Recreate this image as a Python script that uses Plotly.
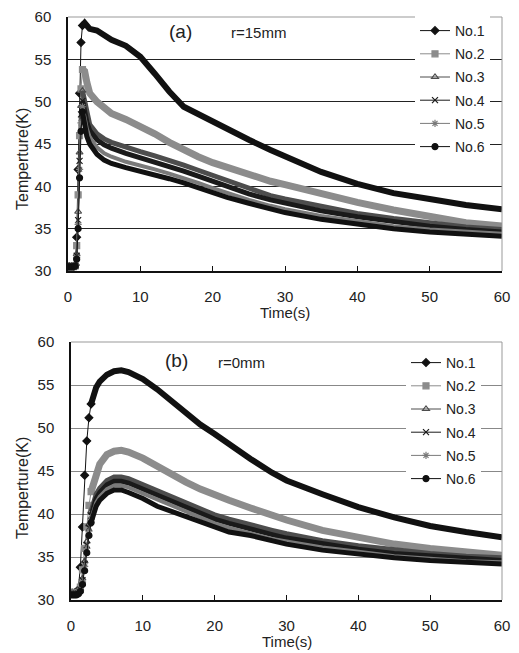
import plotly.graph_objects as go

# ---- data ----
series_names = ["No.1", "No.2", "No.3", "No.4", "No.5", "No.6"]

time_a = [0, 0.25, 0.5, 0.75, 1.0, 1.2, 1.4, 1.6, 1.8, 2.0, 2.3, 2.6, 3, 4, 5, 6, 8, 10,
          12, 14, 16, 18, 20, 22, 25, 28, 30, 35, 40, 45, 50, 55, 60]
temp_a_no1 = [30.5, 30.5, 30.5, 30.5, 30.7, 34.0, 42.0, 51.0, 57.0, 59.0, 59.3, 59.0, 58.6, 58.4,
              57.9, 57.3, 56.6, 55.3, 53.3, 51.2, 49.4, 48.5, 47.7, 46.8, 45.5, 44.3, 43.6, 41.7,
              40.3, 39.2, 38.5, 37.8, 37.3]
temp_a_no2 = [30.5, 30.5, 30.5, 30.5, 30.6, 33.0, 39.0, 46.0, 51.5, 53.8, 53.6, 52.3, 51.0, 50.0,
              49.2, 48.6, 47.9, 47.1, 46.2, 45.2, 44.3, 43.5, 42.8, 42.2, 41.3, 40.6, 40.2, 39.1,
              38.1, 37.2, 36.4, 35.7, 35.3]
temp_a_no3 = [30.5, 30.5, 30.5, 30.5, 30.6, 32.0, 37.0, 44.0, 49.5, 51.3, 50.0, 48.5, 47.3, 46.2,
              45.6, 45.2, 44.6, 44.1, 43.6, 43.1, 42.5, 41.9, 41.3, 40.7, 39.7, 38.9, 38.5, 37.6,
              36.8, 36.2, 35.7, 35.2, 34.9]
temp_a_no4 = [30.5, 30.5, 30.5, 30.5, 30.6, 31.8, 36.0, 43.0, 48.5, 50.1, 48.8, 47.6, 46.6, 45.5,
              44.9, 44.5, 43.9, 43.4, 42.9, 42.4, 41.8, 41.2, 40.6, 40.0, 39.1, 38.4, 38.0, 37.1,
              36.4, 35.8, 35.3, 34.9, 34.6]
temp_a_no5 = [30.5, 30.5, 30.5, 30.5, 30.6, 31.6, 35.5, 42.0, 47.5, 49.4, 48.0, 46.8, 45.8, 44.6,
              43.9, 43.5, 42.9, 42.5, 42.0, 41.5, 41.0, 40.4, 39.8, 39.2, 38.4, 37.7, 37.3, 36.5,
              35.9, 35.3, 34.9, 34.6, 34.4]
temp_a_no6 = [30.5, 30.5, 30.5, 30.5, 30.6, 31.4, 35.0, 41.0, 46.5, 48.8, 47.2, 45.9, 45.0, 43.8,
              43.1, 42.7, 42.2, 41.8, 41.4, 40.9, 40.4, 39.8, 39.2, 38.7, 38.0, 37.4, 36.9, 36.1,
              35.5, 35.0, 34.6, 34.3, 34.1]

time_b = [0, 0.25, 0.5, 0.75, 1.0, 1.3, 1.6, 1.9, 2.2, 2.5, 2.8, 3.1, 3.5, 4, 5, 6, 7, 8, 10,
          12, 14, 16, 18, 20, 22, 25, 28, 30, 35, 40, 45, 50, 55, 60]
temp_b_no1 = [30.8, 30.8, 30.8, 30.9, 31.2, 33.8, 38.5, 44.5, 48.5, 51.2, 52.8, 53.8, 54.7, 55.4,
              56.2, 56.6, 56.7, 56.5, 55.7, 54.5, 53.1, 51.7, 50.4, 49.3, 48.1, 46.4, 44.8, 43.9,
              42.3, 40.8, 39.6, 38.6, 37.9, 37.3]
temp_b_no2 = [30.8, 30.8, 30.8, 30.8, 30.9, 31.5, 33.5, 36.0, 38.5, 41.0, 42.6, 43.6, 44.8, 45.8,
              46.9, 47.3, 47.4, 47.2, 46.5, 45.5, 44.6, 43.7, 42.9, 42.2, 41.6, 40.7, 39.8, 39.3,
              38.1, 37.2, 36.5, 36.0, 35.6, 35.2]
temp_b_no3 = [30.8, 30.8, 30.8, 30.8, 30.9, 31.3, 32.5, 34.5, 36.8, 38.8, 40.3, 41.3, 42.3, 43.0,
              43.9, 44.3, 44.3, 44.1, 43.4, 42.6, 41.9, 41.2, 40.5, 39.9, 39.4, 38.7, 38.1, 37.7,
              36.9, 36.3, 35.8, 35.4, 35.1, 34.9]
temp_b_no4 = [30.7, 30.7, 30.7, 30.7, 30.8, 31.2, 32.3, 34.2, 36.4, 38.4, 39.8, 40.8, 41.8, 42.5,
              43.4, 43.8, 43.8, 43.6, 42.9, 42.1, 41.4, 40.7, 40.0, 39.4, 38.9, 38.2, 37.6, 37.2,
              36.5, 35.9, 35.4, 35.1, 34.8, 34.6]
temp_b_no5 = [30.7, 30.7, 30.7, 30.7, 30.8, 31.1, 32.1, 33.9, 36.0, 38.0, 39.4, 40.4, 41.3, 42.0,
              42.9, 43.3, 43.3, 43.1, 42.4, 41.6, 40.9, 40.2, 39.5, 38.9, 38.4, 37.7, 37.1, 36.8,
              36.1, 35.6, 35.1, 34.8, 34.5, 34.4]
temp_b_no6 = [30.6, 30.6, 30.6, 30.6, 30.7, 31.0, 31.8, 33.4, 35.5, 37.5, 39.0, 40.0, 40.9, 41.6,
              42.4, 42.8, 42.8, 42.5, 41.8, 40.9, 40.3, 39.6, 39.0, 38.4, 37.9, 37.5, 36.9, 36.5,
              35.8, 35.3, 34.9, 34.6, 34.4, 34.2]

temps_a = [temp_a_no1, temp_a_no2, temp_a_no3, temp_a_no4, temp_a_no5, temp_a_no6]
temps_b = [temp_b_no1, temp_b_no2, temp_b_no3, temp_b_no4, temp_b_no5, temp_b_no6]

# ---- style ----
FONT = "Liberation Sans, Arial, sans-serif"
colors = ["#111111", "#8c8c8c", "#4d4d4d", "#1a1a1a", "#7a7a7a", "#111111"]
symbols = ["diamond", "square", "triangle-up-open", "x-thin", "asterisk-open", "circle"]
thick = [6, 7, 5, 5, 4, 5]

# page has an 8px body margin, so work in window pixels and shift
OFF = 8
W, H = 519 - OFF, 653 - OFF


def px(x):
    return (x - OFF) / W


def py(y):
    return 1 - (y - OFF) / H


fig = go.Figure()


def add_panel(times, temps, xa, ya, legend, split_t):
    for i, name in enumerate(series_names):
        rise_t = [t for t in times if t <= split_t]
        rise_v = temps[i][:len(rise_t)]
        tail_t = times[len(rise_t) - 1:]
        tail_v = temps[i][len(rise_t) - 1:]
        # rising part: thin line with markers (shown in legend)
        fig.add_trace(go.Scatter(
            x=rise_t, y=rise_v, name=name, mode="lines+markers",
            xaxis=xa, yaxis=ya, legend=legend, legendgroup=legend + name,
            line=dict(color=colors[i], width=1),
            marker=dict(symbol=symbols[i], size=6, color=colors[i],
                        line=dict(color=colors[i], width=1.2)),
        ))
        # decay part: thick band of overlapping markers in the original
        fig.add_trace(go.Scatter(
            x=tail_t, y=tail_v, name=name, mode="lines", showlegend=False,
            xaxis=xa, yaxis=ya, legendgroup=legend + name,
            line=dict(color=colors[i], width=thick[i]),
        ))


add_panel(time_a, temps_a, "x", "y", "legend", 2.0)
add_panel(time_b, temps_b, "x2", "y2", "legend2", 2.8)

xcommon = dict(range=[0, 60], dtick=10, ticks="inside", ticklen=5, tickcolor="#111",
               showline=True, linecolor="#111", linewidth=1.5, showgrid=False, zeroline=False,
               automargin=False, ticklabeloverflow="allow",
               tickfont=dict(family=FONT, size=15, color="#222"), ticklabelstandoff=11)
ycommon = dict(range=[30, 60], dtick=5, ticks="", showline=True, linecolor="#111",
               linewidth=1.5, showgrid=True, gridwidth=1, zeroline=False, automargin=False,
               ticklabeloverflow="allow",
               tickfont=dict(family=FONT, size=15, color="#222"), ticklabelstandoff=12)

legend_common = dict(bgcolor="white", borderwidth=0, xanchor="left", yanchor="top",
                     font=dict(family=FONT, size=14, color="#222"), tracegroupgap=2)

fig.update_layout(
    width=W, height=H,
    margin=dict(l=0, r=0, t=0, b=0, autoexpand=False),
    paper_bgcolor="white", plot_bgcolor="white",
    xaxis=dict(domain=[px(68), px(502)], anchor="y", **xcommon),
    yaxis=dict(domain=[py(271), py(17)], anchor="x", gridcolor="#222", **ycommon),
    xaxis2=dict(domain=[px(71), px(502)], anchor="y2", **xcommon),
    yaxis2=dict(domain=[py(600), py(342)], anchor="x2", gridcolor="#888", **ycommon),
    legend=dict(x=px(415), y=py(15), **legend_common),
    legend2=dict(x=px(406), y=py(347), **legend_common),
    showlegend=True,
)

# grey top/right frame of each plot area
for xr, yr in [("x domain", "y domain"), ("x2 domain", "y2 domain")]:
    fig.add_shape(type="line", xref=xr, yref=yr, x0=0, x1=1, y0=1, y1=1,
                  line=dict(color="#999", width=1))
    fig.add_shape(type="line", xref=xr, yref=yr, x0=1, x1=1, y0=0, y1=1,
                  line=dict(color="#999", width=1))

# panel labels and axis titles
texts = [
    dict(text="(a)", x=180, y=31, size=19),
    dict(text="r=15mm", x=258, y=33, size=15),
    dict(text="(b)", x=176, y=360, size=19),
    dict(text="r=0mm", x=241, y=362, size=15),
    dict(text="Time(s)", x=285, y=312, size=15),
    dict(text="Time(s)", x=287, y=641, size=15),
]
for t in texts:
    fig.add_annotation(text=t["text"], x=px(t["x"]), y=py(t["y"]), xref="paper", yref="paper",
                       showarrow=False, xanchor="center", yanchor="middle",
                       font=dict(family=FONT, size=t["size"], color="#222"))
for yc in [159, 488]:
    fig.add_annotation(text="Temperture(K)", x=px(22), y=py(yc), xref="paper", yref="paper",
                       showarrow=False, textangle=-90, xanchor="center", yanchor="middle",
                       font=dict(family=FONT, size=16, color="#222"))

fig.write_html("out.html")
